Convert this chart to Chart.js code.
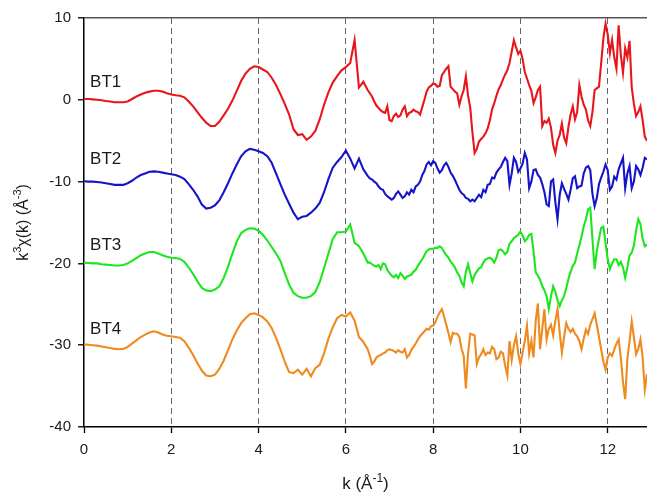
<!DOCTYPE html>
<html>
<head>
<meta charset="utf-8">
<script src="https://cdn.jsdelivr.net/npm/chart.js@4.4.0/dist/chart.umd.min.js"></script>
<style>
  html, body { margin: 0; padding: 0; background: #fff; }
</style>
</head>
<body>
<canvas id="exafs" width="647" height="495"></canvas>
<script>
// k grid (1/A): 0.1 steps up to 6.4, then 0.05 steps where the data gets noisy
const k = [
  0.0, 0.1, 0.2, 0.3, 0.4, 0.5, 0.6, 0.7, 0.8, 0.9,
  1.0, 1.1, 1.2, 1.3, 1.4, 1.5, 1.6, 1.7, 1.8, 1.9,
  2.0, 2.1, 2.2, 2.3, 2.4, 2.5, 2.6, 2.7, 2.8, 2.9,
  3.0, 3.1, 3.2, 3.3, 3.4, 3.5, 3.6, 3.7, 3.8, 3.9,
  4.0, 4.1, 4.2, 4.3, 4.4, 4.5, 4.6, 4.7, 4.8, 4.9,
  5.0, 5.1, 5.2, 5.3, 5.4, 5.5, 5.6, 5.7, 5.8, 5.9,
  6.0, 6.1, 6.2, 6.3, 6.4,
  6.5, 6.55, 6.6, 6.65, 6.7, 6.75, 6.8, 6.85, 6.9, 6.95,
  7.0, 7.05, 7.1, 7.15, 7.2, 7.25, 7.3, 7.35, 7.4, 7.45,
  7.5, 7.55, 7.6, 7.65, 7.7, 7.75, 7.8, 7.85, 7.9, 7.95,
  8.0, 8.05, 8.1, 8.15, 8.2, 8.25, 8.3, 8.35, 8.4, 8.45,
  8.5, 8.55, 8.6, 8.65, 8.7, 8.75, 8.8, 8.85, 8.9, 8.95,
  9.0, 9.05, 9.1, 9.15, 9.2, 9.25, 9.3, 9.35, 9.4, 9.45,
  9.5, 9.55, 9.6, 9.65, 9.7, 9.75, 9.8, 9.85, 9.9, 9.95,
  10.0, 10.05, 10.1, 10.15, 10.2, 10.25, 10.3, 10.35, 10.4, 10.45,
  10.5, 10.55, 10.6, 10.65, 10.7, 10.75, 10.8, 10.85, 10.9, 10.95,
  11.0, 11.05, 11.1, 11.15, 11.2, 11.25, 11.3, 11.35, 11.4, 11.45,
  11.5, 11.55, 11.6, 11.65, 11.7, 11.75, 11.8, 11.85, 11.9, 11.95,
  12.0, 12.05, 12.1, 12.15, 12.2, 12.25, 12.3, 12.35, 12.4, 12.45,
  12.5, 12.55, 12.6, 12.65, 12.7, 12.75, 12.8, 12.85, 12.9
];

// k^3 chi(k), curves already stacked by the original plot
const bt1 = [
  0.1, 0.1, 0.05, 0.0, -0.05, -0.15, -0.2, -0.3, -0.3, -0.3,
  -0.2, 0.1, 0.4, 0.65, 0.85, 1.0, 1.1, 1.1, 1.0, 0.8,
  0.65, 0.55, 0.5, 0.3, -0.2, -0.8, -1.5, -2.2, -2.8, -3.2,
  -3.2, -2.7, -1.9, -1.1, -0.1, 1.1, 2.3, 3.2, 3.8, 4.1,
  4.0, 3.7, 3.4, 2.7, 1.8, 0.7, -0.5, -1.8, -3.6, -4.3,
  -4.2, -4.9, -4.5, -3.8, -2.4, -0.6, 0.9, 2.1, 2.9, 3.6,
  4.0, 4.5, 7.3, 1.5, 2.2,
  1.2, 0.8, 0.4, -0.2, -0.7, -1.0, -1.3, -1.5, -1.6, -0.8,
  -2.5, -2.6, -2.0, -1.7, -2.1, -1.9, -1.2, -0.8, -2.0, -1.6,
  -1.5, -1.2, -1.4, -1.5, -1.8, -0.9, 0.0, 1.0, 1.5, 1.7,
  2.0, 1.9, 1.6, 1.7, 3.0, 3.4, 3.8, 4.1, 1.6, 1.3,
  1.0, 0.8, -0.6, 0.4, 1.2, 2.85, 0.5, -1.0, -4.0, -6.5,
  -6.0, -5.1, -4.8, -4.5, -4.1, -3.5, -2.5, -1.2, -0.4, 0.5,
  1.3, 1.8, 2.5, 3.1, 3.6, 4.5, 5.9, 7.3, 6.4, 5.6,
  6.0, 5.0, 3.4, 2.6, 1.8, 1.1, -0.4, 0.3, 1.2, 1.6,
  -3.2, -2.6, -2.8, -2.3, -3.4, -5.5, -6.5, -5.0, -4.3, -2.9,
  -4.6, -5.3, -3.3, -1.8, -0.8, -2.4, -1.5, 1.8, 0.4, -0.6,
  -1.2, -2.5, -3.2, -1.5, 1.2, 1.4, 1.6, 4.5, 7.5, 9.3,
  8.0, 5.7, 7.3, 5.2, 3.8, 9.1, 5.5, 3.3, 6.3, 5.2,
  7.2, 1.5, -0.5, -2.0, -1.5, -0.8, -2.5, -4.5, -5.0
];
const bt2 = [
  -9.95, -10.0, -10.0, -10.05, -10.1, -10.2, -10.3, -10.4, -10.4, -10.4,
  -10.2, -9.9, -9.5, -9.2, -9.0, -8.8, -8.75, -8.8, -8.9, -9.0,
  -9.1, -9.2, -9.4, -9.7, -10.3, -11.0, -11.8, -12.8, -13.3, -13.2,
  -12.9, -12.3, -11.3, -10.2, -9.0, -7.9, -6.9, -6.3, -6.0, -6.1,
  -6.3, -6.5, -6.9, -7.7, -9.0, -10.3, -11.6, -12.7, -13.8, -14.6,
  -14.3, -14.2, -13.8, -13.3, -12.6, -11.3, -9.7, -8.3, -7.6, -7.0,
  -6.2, -7.2, -8.4, -7.2, -8.5,
  -9.3, -9.6, -9.75, -10.0, -10.2, -10.6, -10.9, -11.0, -11.5, -11.8,
  -12.0, -12.2, -12.0, -11.5, -11.2, -11.6, -12.0, -11.8, -11.3, -11.6,
  -11.0, -11.3, -10.6, -10.4, -10.0, -9.2, -8.7, -7.9, -7.6, -8.0,
  -7.5, -7.7, -8.4, -8.9, -8.6, -8.0, -7.7, -8.2, -8.9, -9.3,
  -9.8, -10.4, -11.0, -11.4, -11.6, -12.0, -12.1, -12.4, -12.2, -12.4,
  -12.0, -11.6, -11.9, -11.0, -11.3, -10.4, -10.3, -9.5, -9.6, -8.9,
  -8.5, -8.2, -7.6, -7.1, -7.5, -10.4, -9.0, -7.1, -7.6, -8.8,
  -8.4, -7.8, -6.5, -7.3, -10.8, -10.0, -8.6, -8.5, -9.2, -9.5,
  -10.3, -11.3, -12.8, -13.0, -10.0, -9.75, -12.5, -14.6, -11.6, -10.2,
  -10.9, -11.5, -12.2, -11.0, -9.6, -9.35, -10.8, -10.6, -10.5, -9.0,
  -8.3, -8.1, -8.6, -11.5, -13.0, -12.0, -10.3, -9.5, -8.8, -7.9,
  -8.6, -11.0, -10.6, -9.4, -9.75, -8.5, -7.8, -7.1, -10.8, -9.0,
  -8.1, -10.8, -10.0, -8.1, -8.5, -9.2, -8.3, -7.1, -7.3
];
const bt3 = [
  -19.9, -19.95, -20.0, -20.0, -20.1, -20.15, -20.2, -20.25, -20.25, -20.2,
  -20.0, -19.7, -19.35, -19.0, -18.8, -18.6, -18.6, -18.8, -19.0, -19.2,
  -19.3, -19.35, -19.45, -19.8, -20.5, -21.3, -22.2, -23.0, -23.3, -23.4,
  -23.2, -22.8, -21.8, -20.4, -18.8, -17.3, -16.3, -15.9, -15.7, -15.75,
  -16.0, -16.5, -17.2, -18.0, -18.8, -19.7, -21.2, -22.6, -23.6, -24.0,
  -24.2, -24.2, -24.0, -23.5, -22.3, -20.6, -18.8, -17.0, -16.2, -16.2,
  -16.1, -15.25, -17.5, -17.9, -18.8,
  -19.9, -19.9, -20.1, -20.3, -20.4, -20.2, -20.7, -20.0, -20.1, -20.8,
  -21.2, -21.5, -21.7, -21.4, -21.8, -21.2, -21.5, -21.9, -21.6, -21.5,
  -21.4, -21.0, -20.8, -20.3, -19.9, -19.5, -19.0, -18.5, -18.3, -18.2,
  -18.2, -18.1, -18.1, -17.9, -18.1, -18.6, -19.0, -19.3, -19.8, -20.1,
  -20.5, -21.1, -21.5, -22.3, -22.8, -21.0, -20.1, -21.2, -22.2, -21.4,
  -21.0, -20.6, -20.5, -19.9, -19.5, -19.4, -19.3, -19.5, -19.9, -19.3,
  -18.4, -18.3, -18.5, -18.9, -18.6, -17.6, -17.3, -16.9, -16.7, -16.5,
  -16.1, -16.6, -17.3, -17.0, -16.5, -16.4, -18.5, -21.1, -21.5, -22.0,
  -22.8, -23.3, -24.0, -25.6, -24.0, -22.8, -23.5, -24.5, -25.2, -24.5,
  -24.0, -23.0, -21.9, -21.0, -20.3, -19.9, -18.8, -17.8, -16.7, -15.5,
  -14.6, -13.4, -13.2, -17.0, -20.7, -18.5, -17.0, -15.65, -15.5, -17.5,
  -19.5, -20.7, -20.0, -19.5, -19.5, -20.2, -19.8, -20.5, -21.75, -20.5,
  -19.0, -18.7, -17.8, -16.0, -14.6, -15.2, -17.0, -17.9, -17.7
];
const bt4 = [
  -29.9, -29.95, -30.0, -30.05, -30.15, -30.25, -30.35, -30.45, -30.5, -30.45,
  -30.2, -29.8, -29.4, -29.0, -28.7, -28.45, -28.3, -28.45, -28.7, -28.85,
  -28.9, -29.0, -29.1, -29.5, -30.3, -31.2, -32.2, -33.1, -33.7, -33.8,
  -33.6, -32.9, -31.9, -30.6, -29.3, -28.2, -27.3, -26.7, -26.2, -26.1,
  -26.3, -26.6, -27.1, -27.9, -29.1, -30.5, -32.0, -33.3, -33.4, -33.0,
  -33.6, -32.9, -33.8, -32.8, -32.4, -31.0, -29.2, -27.8, -26.7, -26.3,
  -26.5, -26.0, -27.0, -29.0, -29.6,
  -30.5, -31.3, -32.3, -32.0, -31.5, -31.3, -31.2, -31.0, -30.9, -30.6,
  -30.5, -30.6, -30.7, -30.9, -30.6, -30.8, -30.9, -30.5, -31.5, -31.2,
  -30.6, -30.2, -29.8, -29.3, -28.9, -28.6, -28.3, -28.0, -28.1, -27.7,
  -27.6, -27.2, -26.5, -26.0, -25.6, -26.5, -27.5, -28.5, -29.6, -28.5,
  -28.6, -28.6, -29.0, -30.4, -31.3, -35.3, -31.0, -28.6, -28.7, -28.8,
  -32.3, -31.5, -31.1, -30.5, -31.2, -30.9, -31.0, -30.2, -30.5, -31.7,
  -31.5, -30.8, -31.0, -32.5, -33.7, -29.5, -31.8, -30.0, -28.9, -31.0,
  -32.3, -30.9, -29.5, -27.6, -31.0, -29.5, -31.5, -27.0, -24.9, -30.5,
  -28.0, -25.6, -29.3, -28.0, -27.5, -28.8, -27.0, -25.6, -28.5, -30.9,
  -29.0, -27.3, -28.0, -28.4, -28.0, -28.6, -28.9, -29.5, -30.5, -29.2,
  -28.1, -28.6, -27.5, -26.8, -26.1, -27.5, -29.0, -30.5, -32.0, -33.0,
  -31.5, -31.0, -31.3, -30.5, -29.8, -29.3, -31.5, -34.5, -36.6, -31.7,
  -29.5, -27.1, -29.0, -31.1, -30.5, -29.3, -31.5, -35.4, -33.5
];

const seriesNames = ["BT1", "BT2", "BT3", "BT4"];
const seriesValues = [bt1, bt2, bt3, bt4];
const seriesColors = ["#e8161c", "#1414c8", "#1ee61e", "#ef8a1f"];
const xTicks = [0, 2, 4, 6, 8, 10, 12];
const yTicks = [-40, -30, -20, -10, 0, 10];

const FONT = '"Liberation Sans", Arial, sans-serif';

// text with superscripts, centred on cx, baseline at cy
function drawRich(ctx, parts, cx, cy, size) {
    const big = size + "px " + FONT;
    const small = Math.round(size * 0.68) + "px " + FONT;
    let w = 0;
    parts.forEach(p => { ctx.font = p.sup ? small : big; w += ctx.measureText(p.t).width; });
    let xx = cx - w / 2;
    parts.forEach(p => {
        ctx.font = p.sup ? small : big;
        ctx.fillText(p.t, xx, p.sup ? cy - size * 0.42 : cy);
        xx += ctx.measureText(p.t).width;
    });
}

const labelPos = [1.55, -7.9, -18.4, -28.6];

const textPlugin = {
    id: "textPlugin",
    afterDraw(chart) {
        const { ctx, scales: { x, y }, chartArea } = chart;
        ctx.save();
        ctx.fillStyle = "#1a1a1a";
        ctx.textBaseline = "alphabetic";
        ctx.textAlign = "left";
        ctx.font = "17px " + FONT;
        seriesNames.forEach((name, i) => {
            ctx.fillText(name, x.getPixelForValue(0.14), y.getPixelForValue(labelPos[i]));
        });

        // x title
        drawRich(ctx, [{ t: "k (Å" }, { t: "-1", sup: true }, { t: ")" }],
            (chartArea.left + chartArea.right) / 2, 489, 17);

        // y title
        ctx.translate(28, (chartArea.top + chartArea.bottom) / 2);
        ctx.rotate(-Math.PI / 2);
        drawRich(ctx, [{ t: "k" }, { t: "3", sup: true }, { t: "χ(k) (Å" }, { t: "-3", sup: true }, { t: ")" }],
            0, 0, 16);
        ctx.restore();
    }
};

new Chart(document.getElementById("exafs"), {
    type: "line",
    data: {
        datasets: seriesNames.map((name, i) => ({
            label: name,
            data: k.map((kv, j) => ({ x: kv, y: seriesValues[i][j] })),
            borderColor: seriesColors[i],
            borderWidth: 2.1,
            pointRadius: 0,
            tension: 0,
            fill: false
        }))
    },
    options: {
        responsive: false,
        animation: false,
        layout: { padding: { top: 18, right: 0, left: 0, bottom: 0 } },
        plugins: { legend: { display: false }, tooltip: { enabled: false } },
        scales: {
            x: {
                type: "linear",
                min: 0,
                max: 12.9,
                afterBuildTicks: s => { s.ticks = xTicks.map(v => ({ value: v })); },
                afterFit: s => { s.height = 68; },
                ticks: {
                    includeBounds: false,
                    autoSkip: false,
                    maxRotation: 0,
                    padding: 8,
                    color: "#1a1a1a",
                    font: { family: FONT, size: 15 }
                },
                grid: {
                    color: c => (c.tick && c.tick.value === 0 ? "transparent" : "#666"),
                    lineWidth: 1,
                    tickColor: "#000",
                    tickLength: 6,
                    tickWidth: 1.3
                },
                border: { color: "#000", width: 1.5, dash: [6, 4] }
            },
            y: {
                min: -40,
                max: 10,
                afterBuildTicks: s => { s.ticks = yTicks.map(v => ({ value: v })); },
                afterFit: s => { s.width = 84; },
                ticks: {
                    padding: 7,
                    color: "#1a1a1a",
                    font: { family: FONT, size: 15 }
                },
                grid: {
                    color: c => (c.tick && c.tick.value === 10 ? "#555" : "transparent"),
                    lineWidth: 1.6,
                    tickColor: "#000",
                    tickLength: 6,
                    tickWidth: 1.3
                },
                border: { color: "#000", width: 1.5 }
            }
        }
    },
    plugins: [textPlugin]
});
</script>
</body>
</html>
